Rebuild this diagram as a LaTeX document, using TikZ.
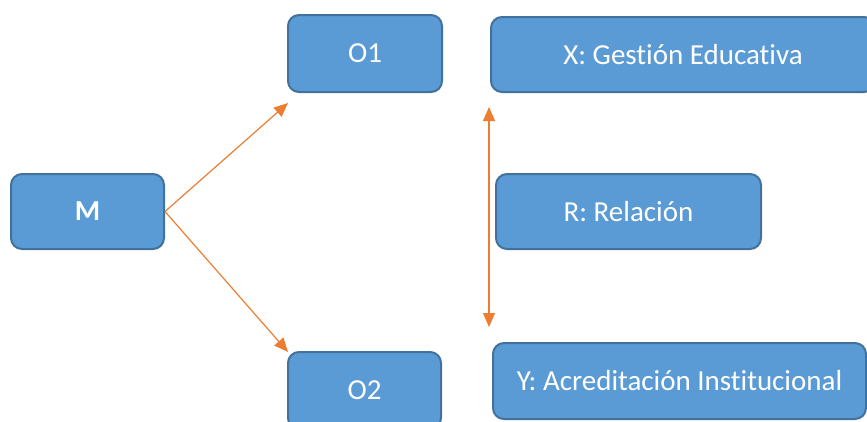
\documentclass[tikz,border=0pt]{standalone}
\usepackage{fontspec}
\setmainfont{Carlito}[Ligatures=NoCommon]
\usetikzlibrary{arrows.meta}
\definecolor{boxfill}{HTML}{5B9BD5}
\definecolor{boxline}{HTML}{41719C}
\definecolor{arrowc}{HTML}{ED7D31}
\begin{document}
\begin{tikzpicture}[x=1pt,y=-1pt,
  box/.style={draw=boxline, line width=2pt, fill=boxfill, rounded corners=11pt,
    text=white, font=\fontsize{29}{34}\selectfont, inner sep=0pt, anchor=center},
  arr/.style={draw=arrowc, line width=1.2pt, -{Triangle[length=14pt,width=12pt]}},
  darr/.style={draw=arrowc, line width=1.2pt, {Triangle[length=14pt,width=12pt]}-{Triangle[length=14pt,width=12pt]}}]
\useasboundingbox (0,0) rectangle (867,421);
\clip (0,0) rectangle (867,421);
\node[box, minimum width=153pt, minimum height=75pt] (M) at (87.5,211.5) {\textbf{M}};
\node[box, minimum width=154pt, minimum height=77pt] (O1) at (365,53.5) {O1};
\node[box, minimum width=384pt, minimum height=75pt] (X) at (683,54.5) {X: Gestión Educativa};
\node[box, minimum width=265pt, minimum height=75pt] (R) at (628.5,211.5) {R: Relación};
\node[box, minimum width=153pt, minimum height=77pt] (O2) at (364.5,390.5) {O2};
\node[box, minimum width=373pt, minimum height=76pt] (Y) at (679.5,381) {Y: Acreditación Institucional};
\coordinate (t1) at (288,103);
\coordinate (t2) at (288,352);
\coordinate (va) at (489,107);
\coordinate (vb) at (489,327);
\draw[arr] (M.east) -- (t1);
\draw[arr] (M.east) -- (t2);
\draw[darr] (va) -- (vb);
\end{tikzpicture}
\end{document}
